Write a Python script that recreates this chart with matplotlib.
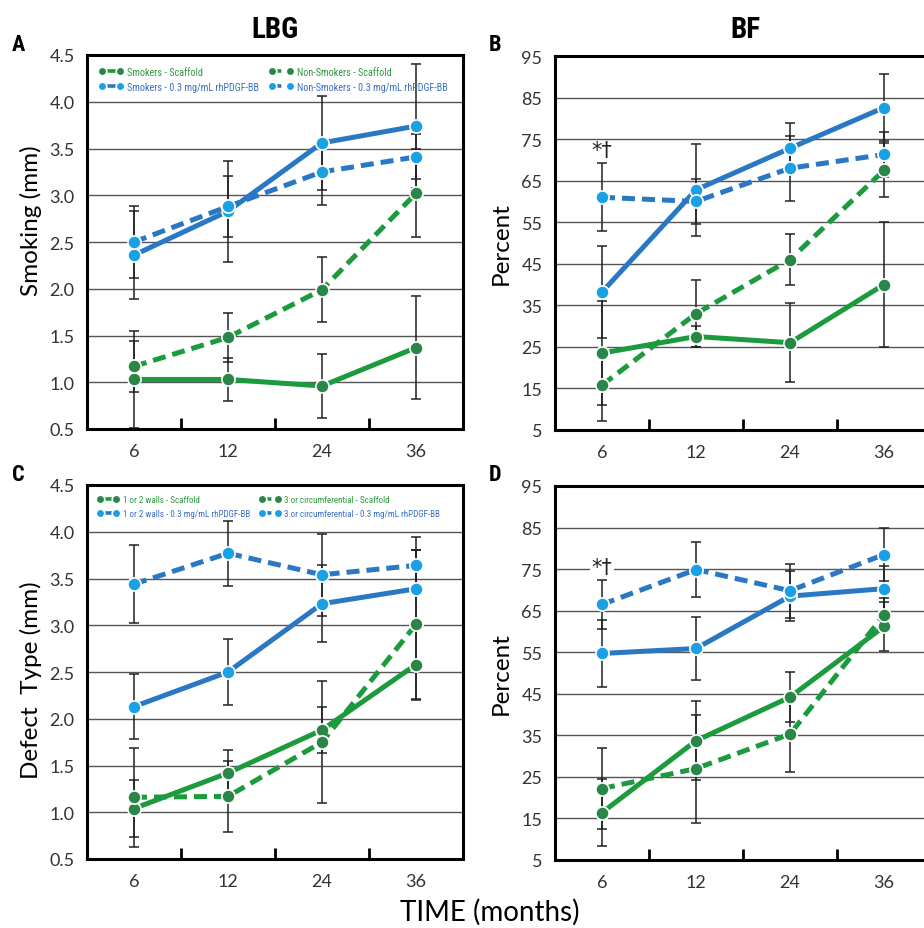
import matplotlib
matplotlib.use('Agg')

import matplotlib.pyplot as plt
from matplotlib import font_manager
import numpy as np

plt.rcParams['font.family'] = ['Lato', 'DejaVu Sans']

# x categories (months)
months = ['6', '12', '24', '36']

# Panel A - LBG (mm), smokers vs non-smokers
a_smk_scaf = [1.03, 1.03, 0.96, 1.37]
a_smk_scaf_err = [0.52, 0.23, 0.34, 0.55]
a_smk_pdgf = [2.36, 2.83, 3.56, 3.74]
a_smk_pdgf_err = [0.47, 0.54, 0.50, 0.66]
a_non_scaf = [1.17, 1.48, 1.99, 3.02]
a_non_scaf_err = [0.27, 0.26, 0.35, 0.47]
a_non_pdgf = [2.50, 2.88, 3.25, 3.41]
a_non_pdgf_err = [0.39, 0.33, 0.35, 0.24]

# Panel B - BF (%), smokers vs non-smokers
b_smk_scaf = [23.5, 27.5, 26.0, 40.0]
b_smk_scaf_err = [12.5, 2.5, 9.5, 15.0]
b_smk_pdgf = [38.2, 62.8, 72.8, 82.6]
b_smk_pdgf_err = [11.0, 11.0, 6.0, 8.0]
b_non_scaf = [15.8, 33.0, 46.0, 67.5]
b_non_scaf_err = [8.6, 8.0, 6.2, 6.5]
b_non_pdgf = [61.0, 60.0, 68.0, 71.3]
b_non_pdgf_err = [8.2, 5.5, 7.8, 5.3]

# Panel C - LBG (mm), defect type
c_w12_scaf = [1.04, 1.42, 1.88, 2.58]
c_w12_scaf_err = [0.30, 0.25, 0.25, 0.38]
c_w12_pdgf = [2.13, 2.50, 3.23, 3.39]
c_w12_pdgf_err = [0.35, 0.35, 0.41, 0.42]
c_w3_scaf = [1.16, 1.17, 1.75, 3.01]
c_w3_scaf_err = [0.53, 0.38, 0.65, 0.80]
c_w3_pdgf = [3.44, 3.77, 3.54, 3.64]
c_w3_pdgf_err = [0.42, 0.35, 0.44, 0.30]

# Panel D - BF (%), defect type
d_w12_scaf = [16.4, 33.7, 44.2, 61.2]
d_w12_scaf_err = [8.0, 9.5, 6.0, 6.0]
d_w12_pdgf = [54.7, 55.9, 68.5, 70.3]
d_w12_pdgf_err = [8.0, 7.5, 6.0, 5.5]
d_w3_scaf = [22.2, 27.0, 35.3, 64.0]
d_w3_scaf_err = [9.7, 13.0, 9.2, 4.0]
d_w3_pdgf = [66.5, 74.9, 69.8, 78.5]
d_w3_pdgf_err = [6.0, 6.6, 6.5, 6.3]

smk_labels = ['Smokers - Scaffold', 'Smokers - 0.3 mg/mL rhPDGF-BB',
              'Non-Smokers - Scaffold', 'Non-Smokers - 0.3 mg/mL rhPDGF-BB']
defect_labels = ['1 or 2 walls - Scaffold', '1 or 2 walls - 0.3 mg/mL rhPDGF-BB',
                 '3 or circumferential - Scaffold', '3 or circumferential - 0.3 mg/mL rhPDGF-BB']

GREEN_LINE = '#1c9a3e'
GREEN_DOT = '#2a8646'
BLUE_LINE = '#2a78c4'
BLUE_DOT = '#1aa0e4'
GREEN_TEXT = '#2f9a3f'
BLUE_TEXT = '#3a6fc0'

# order: scaffold solid, pdgf solid, scaffold dashed, pdgf dashed
STYLES = [
    (GREEN_LINE, GREEN_DOT, '-'),
    (BLUE_LINE, BLUE_DOT, '-'),
    (GREEN_LINE, GREEN_DOT, (0, (2.6, 1.4))),
    (BLUE_LINE, BLUE_DOT, (0, (2.6, 1.4))),
]


def pick_narrow():
    """
    Find a condensed family if one is installed, else fall back to Lato
    """
    fonts = font_manager.fontManager.ttflist
    names = {f.name for f in fonts}
    for name in ['Roboto Condensed', 'Liberation Sans Narrow', 'Open Sans Condensed',
                 'Noto Sans Condensed']:
        if name in names:
            return name, 'normal'
    for f in fonts:
        if f.name == 'DejaVu Sans' and f.stretch in ('condensed', 'semi-condensed'):
            return 'DejaVu Sans', 'condensed'
    return 'Lato', 'normal'


NARROW, NARROW_STRETCH = pick_narrow()


def add_legend(fig, ax, handles, labels):
    """
    Two column legend along the top; shrink the font until it fits inside the box
    """
    renderer = fig.canvas.get_renderer()
    ax_box = ax.get_window_extent(renderer)
    for size in np.arange(9.0, 4.9, -0.25):
        leg = ax.legend(handles, labels, ncol=2, loc='upper left', bbox_to_anchor=(0.0, 1.0),
                        frameon=False, numpoints=2, markerscale=0.65, handlelength=2.4,
                        handletextpad=0.4, columnspacing=1.0, labelspacing=0.5,
                        borderaxespad=0.75,
                        prop={'family': NARROW, 'stretch': NARROW_STRETCH, 'size': size})
        if leg.get_window_extent(renderer).x1 <= ax_box.x1 - 5:
            break
    for txt, (lc, mc, ls) in zip(leg.get_texts(), STYLES):
        txt.set_color(GREEN_TEXT if lc == GREEN_LINE else BLUE_TEXT)
    for h in leg.legend_handles:
        h.set_linewidth(2.6)


def draw_panel(ax, series, errors, ylim, yticks, fmt):
    """
    Draw one panel: error bars, lines with round markers, grid and axes styling
    """
    x = np.arange(len(months))
    handles = []
    for vals, errs, (lc, mc, ls) in zip(series, errors, STYLES):
        ax.errorbar(x, vals, yerr=errs, fmt='none', ecolor='#222222',
                    elinewidth=1.1, capsize=3.6, capthick=1.1, zorder=2)
        line, = ax.plot(x, vals, color=lc, lw=3.6, ls=ls, marker='o', ms=9.5,
                        mfc=mc, mec='white', mew=1.2, zorder=3)
        handles.append(line)

    ax.set_xlim(-0.5, 3.5)
    ax.set_ylim(*ylim)
    ax.set_yticks(yticks)
    ax.set_yticklabels([fmt % v for v in yticks])
    ax.set_xticks(x)
    ax.set_xticklabels(months)
    ax.set_xticks([0.5, 1.5, 2.5], minor=True)
    ax.tick_params(axis='x', which='major', length=0, pad=10, labelsize=13, labelcolor='#333333')
    ax.tick_params(axis='x', which='minor', direction='in', length=8, width=2, color='black')
    ax.tick_params(axis='y', length=0, pad=9, labelsize=13, labelcolor='#333333')
    ax.yaxis.grid(True, color='#555555', lw=1.0, zorder=0)
    ax.set_axisbelow(True)
    for sp in ax.spines.values():
        sp.set_linewidth(2.2)
        sp.set_color('black')
    return handles


fig = plt.figure(figsize=(9.24, 9.29), dpi=100)
W, H = 924.0, 929.0
aw, ah = 376 / W, 374 / H
ax_a = fig.add_axes([87 / W, 1 - 430 / H, aw, ah])
ax_b = fig.add_axes([555 / W, 1 - 431 / H, aw, ah])
ax_c = fig.add_axes([87 / W, 1 - 860 / H, aw, ah])
ax_d = fig.add_axes([555 / W, 1 - 861 / H, aw, ah])

mm_ticks = np.arange(0.5, 4.51, 0.5)
pct_ticks = np.arange(5, 96, 10)

h_a = draw_panel(ax_a, [a_smk_scaf, a_smk_pdgf, a_non_scaf, a_non_pdgf],
                 [a_smk_scaf_err, a_smk_pdgf_err, a_non_scaf_err, a_non_pdgf_err],
                 (0.5, 4.5), mm_ticks, '%.1f')
draw_panel(ax_b, [b_smk_scaf, b_smk_pdgf, b_non_scaf, b_non_pdgf],
           [b_smk_scaf_err, b_smk_pdgf_err, b_non_scaf_err, b_non_pdgf_err],
           (5, 95), pct_ticks, '%d')
h_c = draw_panel(ax_c, [c_w12_scaf, c_w12_pdgf, c_w3_scaf, c_w3_pdgf],
                 [c_w12_scaf_err, c_w12_pdgf_err, c_w3_scaf_err, c_w3_pdgf_err],
                 (0.5, 4.5), mm_ticks, '%.1f')
draw_panel(ax_d, [d_w12_scaf, d_w12_pdgf, d_w3_scaf, d_w3_pdgf],
           [d_w12_scaf_err, d_w12_pdgf_err, d_w3_scaf_err, d_w3_pdgf_err],
           (5, 95), pct_ticks, '%d')

add_legend(fig, ax_a, h_a, smk_labels)
add_legend(fig, ax_c, h_c, defect_labels)

# significance marks at 6 months
ax_b.text(0, 72.5, '*\u2020', ha='center', va='center', fontsize=15,
          color='#222222', zorder=5, family=['DejaVu Sans'])
ax_d.text(0, 75.5, '*\u2020', ha='center', va='center', fontsize=15,
          color='#222222', zorder=5, family=['DejaVu Sans'],
          bbox=dict(facecolor='white', edgecolor='none', pad=1))

# axis labels
ax_a.set_ylabel('Smoking (mm)', fontsize=17.5)
ax_a.yaxis.set_label_coords(-0.12, 0.56)
ax_c.set_ylabel('Defect  Type (mm)', fontsize=17.5)
ax_c.yaxis.set_label_coords(-0.12, 0.48)
for ax in (ax_b, ax_d):
    ax.set_ylabel('Percent', fontsize=17.5)
    ax.yaxis.set_label_coords(-0.115, 0.5)

fig.text(275 / W, 1 - 30 / H, 'LBG', ha='center', va='center', fontsize=21,
         fontweight='bold', family=NARROW, stretch=NARROW_STRETCH)
fig.text(745 / W, 1 - 30 / H, 'BF', ha='center', va='center', fontsize=21,
         fontweight='bold', family=NARROW, stretch=NARROW_STRETCH)
for lx, ly, letter in [(18, 45, 'A'), (495, 45, 'B'), (18, 475, 'C'), (495, 475, 'D')]:
    fig.text(lx / W, 1 - ly / H, letter, ha='center', va='center', fontsize=16,
             fontweight='bold', family=NARROW, stretch=NARROW_STRETCH)
fig.text(490 / W, 1 - 912 / H, 'TIME (months)', ha='center', va='center', fontsize=20)

plt.savefig('out.png', dpi=100)
plt.close()
